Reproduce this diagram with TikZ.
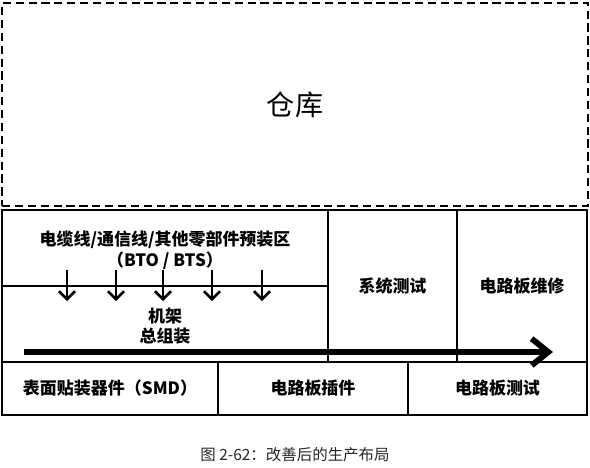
\documentclass[tikz,border=0pt]{standalone}
\usepackage{fontspec}
\newfontfamily\cjk{Noto Sans CJK SC}
\usetikzlibrary{arrows.meta, positioning}

\begin{document}
\begin{tikzpicture}[
    x=0.03cm, y=-0.03cm,
    cell/.style={
        rectangle, draw, line width=1.4pt, inner sep=0pt,
        align=center, font=\cjk\bfseries\fontsize{14.5}{17.5}\selectfont
    },
    label/.style={align=center, font=\cjk\bfseries\fontsize{14.5}{17.5}\selectfont},
    feed/.style={-{Straight Barb[length=2.4mm, width=4.8mm]}, line width=2.2pt},
    flow/.style={-{Straight Barb[length=5mm, width=8mm]}, line width=5pt},
]
\useasboundingbox (0,0) rectangle (590,467);

% Warehouse on top
\node[cell, dash pattern=on 7pt off 4pt, minimum width=586*0.03cm, minimum height=203*0.03cm,
      font=\cjk\fontsize{24}{28}\selectfont] (store) at (295,104.5) {仓库};

% Upper row of the shop floor
\node[cell, minimum width=326*0.03cm, minimum height=76*0.03cm] (prebox) at (165,248) {};
\node[cell, minimum width=326*0.03cm, minimum height=76*0.03cm] (rack) at (165,324) {};
\node[cell, minimum width=129*0.03cm, minimum height=152*0.03cm] (systest) at (392.5,286) {系统测试};
\node[cell, minimum width=130*0.03cm, minimum height=152*0.03cm] (repair) at (522,286) {电路板维修};

% Lower row
\node[cell, minimum width=216*0.03cm, minimum height=53*0.03cm] (smd) at (110,388.5) {表面贴装器件（SMD）};
\node[cell, minimum width=190*0.03cm, minimum height=53*0.03cm] (insert) at (313,388.5) {电路板插件};
\node[cell, minimum width=179*0.03cm, minimum height=53*0.03cm] (pcbtest) at (497.5,388.5) {电路板测试};

% Texts inside the left boxes
\node[label] (pretext) at (165,240) {电缆线/通信线/其他零部件预装区};
\node[label] (btotext) at (165,261) {（BTO / BTS）};
\node[label] (racktext) at (165,326) {机架\\总组装};

% Feeding arrows
\foreach \x [count=\i] in {67,116,163,212,262} {
    \coordinate (fs\i) at (\x,270);
    \coordinate (fe\i) at (\x,301);
    \draw[feed] (fs\i) -- (fe\i);
}

% Main flow arrow
\coordinate (flowstart) at (24,352);
\coordinate (flowend) at (553,352);
\draw[flow] (flowstart) -- (flowend);

% Caption
\node[font=\cjk\fontsize{13.2}{16}\selectfont, text=black!85] (caption) at (295,455) {图 2-62：改善后的生产布局};

\end{tikzpicture}
\end{document}
